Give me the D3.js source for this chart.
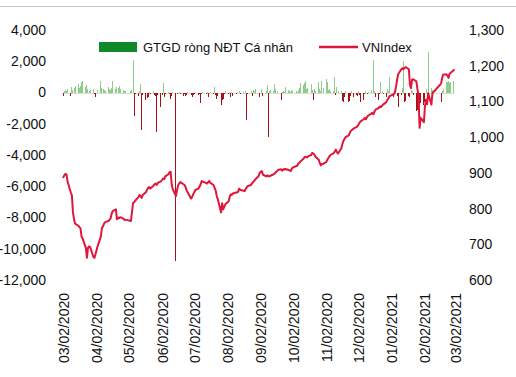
<!DOCTYPE html>
<html><head><meta charset="utf-8">
<script src="https://cdn.jsdelivr.net/npm/d3@7"></script>
<style>
html,body{margin:0;padding:0;background:#fff;}
svg{display:block;font-family:"Liberation Sans",Arial,Helvetica,sans-serif;}
</style></head><body>
<svg id="chart" width="516" height="377"></svg>
<script>
// ---- categories (trading days) ----
const startDate = "2020-03-02";
const endDate = "2021-03-01";
const holidays = ["2020-04-02","2020-04-30","2020-05-01","2020-09-02","2021-01-01",
  "2021-02-10","2021-02-11","2021-02-12","2021-02-15","2021-02-16"];

// ---- tick labels ----
const xTickDates = ["2020-03-02","2020-04-02","2020-05-02","2020-06-02","2020-07-02","2020-08-02",
  "2020-09-02","2020-10-02","2020-11-02","2020-12-02","2021-01-02","2021-02-02","2021-03-02"];
const xTickLabels = ["03/02/2020","04/02/2020","05/02/2020","06/02/2020","07/02/2020","08/02/2020",
  "09/02/2020","10/02/2020","11/02/2020","12/02/2020","01/02/2021","02/02/2021","03/02/2021"];
const leftTicks = [4000, 2000, 0, -2000, -4000, -6000, -8000, -10000, -12000];
const rightTicks = [1300, 1200, 1100, 1000, 900, 800, 700, 600];

// ---- series names ----
const barSeriesName = "GTGD ròng NĐT Cá nhân";
const lineSeriesName = "VNIndex";

// ---- VNIndex (daily close) ----
const vnindex = [
  // Mar 2020
  888, 893, 897, 895, 875, 845, 837, 790, 770, 758, 752, 748, 745, 722, 716, 690, 662, 690, 694, 692, 665, 662,
  // Apr
  672, 695, 722, 746, 750, 758, 762, 765, 768, 772, 785, 793, 798, 770, 775, 773, 776, 772, 768, 769,
  // May
  765, 790, 815, 818, 822, 832, 838, 835, 830, 838, 846, 852, 858, 860, 856, 864, 868, 870, 866, 872,
  // Jun
  876, 880, 884, 882, 890, 896, 902, 903, 868, 854, 835, 852, 865, 870, 874, 868, 866, 860, 850, 845, 828, 832,
  // Jul
  840, 845, 852, 856, 862, 868, 877, 875, 872, 870, 874, 877, 872, 866, 858, 850, 835, 826, 789, 815, 798, 805, 812,
  // Aug
  820, 832, 840, 838, 842, 845, 845, 848, 856, 852, 850, 849, 855, 860, 863, 866, 872, 874, 878, 882, 891,
  // Sep
  900, 905, 895, 890, 893, 891, 890, 892, 896, 898, 902, 904, 908, 910, 906, 910, 909, 911, 908, 907, 905,
  // Oct
  912, 915, 919, 920, 926, 928, 932, 940, 945, 944, 943, 946, 950, 956, 954, 951, 945, 937, 928, 921, 925, 925,
  // Nov
  930, 936, 942, 946, 950, 955, 960, 965, 958, 954, 968, 980, 989, 995, 1000, 1005, 1012, 1018, 1020, 1023, 1028,
  // Dec
  1030, 1035, 1040, 1044, 1050, 1054, 1050, 1056, 1060, 1066, 1068, 1064, 1072, 1077, 1082, 1086, 1084, 1088, 1091, 1098, 1104, 1109, 1115,
  // Jan 2021
  1120, 1125, 1140, 1160, 1176, 1190, 1193, 1190, 1194, 1196, 1190, 1147, 1137, 1161, 1162, 1156, 1135, 1118, 1026, 1054,
  // Feb 2021 + Mar 1
  1042, 1086, 1105, 1092, 1123, 1091, 1123, 1150, 1165, 1175, 1176, 1172, 1166, 1178, 1180, 1188
];

// ---- Net trading value of individual investors (bn VND) ----
const netIndividual = [
  // Mar 2020
  -220, 80, 190, 120, 250, -250, 340, 180, 260, 440, 550, 300, 420, 660, 720, 380, 450, 200, 120, 150, 250, -120,
  // Apr
  -300, 180, 765, 300, 200, 150, 120, 340, 250, 180, 300, 720, 200, 340, 280, 440, 250, 150, 100, 120,
  // May
  80, 150, 2080, -1500, -120, -200, 100, 550, -2380, -150, -450, -380, -300, 60, -100, 80, -150, -200, -2530, -180,
  // Jun
  -950, -150, 590, -300, -80, 60, -120, -400, -200, 40, -10800, -100, -60, 50, -80, -250, -100, -220, -180, 40, -150, -260,
  // Jul
  -180, -120, 50, -150, -80, -680, -100, 60, -90, 40, -300, -60, 50, -100, 340, -150, -400, -200, -830, -450, -400, -120, 80,
  // Aug
  -100, 60, -300, 40, -200, -80, 50, -60, 80, -120, 60, -50, 90, -1740, -80, 70, -250, 150, 100, 230, -60,
  // Sep
  -300, 230, -250, 120, 500, -2850, 80, 150, 100, 550, 200, -60, 80, -480, 60, 100, 50, 340, 150, 120, 60,
  // Oct
  150, 80, 120, 60, 150, 300, 600, 450, 620, 765, 200, 300, 550, 150, -500, 250, 100, 660, 200, 100, 765, 300,
  // Nov
  870, 660, 150, 200, 100, 120, 980, -150, 340, 100, 80, -550, -620, -300, 120, -600, -550, -250, 100, -300, -150,
  // Dec
  -200, 120, -150, -620, -500, -100, 80, -80, 60, 150, -60, 2100, 100, -300, -510, -120, 660, 80, -100, -300, 200, 120, 1000,
  // Jan 2021
  -300, 150, 100, -200, -930, -150, 300, 2000, -600, -550, -200, -300, 150, 100, -150, -1200, -1100, -800, -1250, -700,
  // Feb 2021 + Mar 1
  -800, -600, 200, -400, 2600, 300, 150, -620, 120, 200, 700, 650, 750, 600, 700, 750
];

// ---- build trading-day categories ----
const parse = d3.utcParse("%Y-%m-%d");
const fmt = d3.utcFormat("%Y-%m-%d");
const days = [];
for (let d = parse(startDate); d <= parse(endDate); d = d3.utcDay.offset(d, 1)) {
  const wd = d.getUTCDay();
  if (wd === 0 || wd === 6) continue;
  if (holidays.includes(fmt(d))) continue;
  days.push(d);
}
const n = Math.min(days.length, vnindex.length, netIndividual.length);
const rows = d3.range(n).map(i => ({date: days[i], vn: vnindex[i], net: netIndividual[i]}));

const svg = d3.select("#chart");
const W = 516, H = 377;

const x = d3.scaleUtc().domain([parse(xTickDates[0]), parse(xTickDates[xTickDates.length - 1])]).range([63.3, 455]);
const yL = d3.scaleLinear().domain([-12000, 4000]).range([280, 30]);
const yR = d3.scaleLinear().domain([600, 1300]).range([280, 30]);

const loc = d3.formatLocale({decimal: ".", thousands: ",", grouping: [3], currency: ["", ""], minus: "-"});
const f = loc.format(",");

// top border line
svg.append("line").attr("x1", 0).attr("x2", W).attr("y1", 6.5).attr("y2", 6.5)
  .attr("stroke", "#c9c9c9").attr("stroke-width", 1);

// zero line
svg.append("line").attr("x1", x(days[0]) - 1).attr("x2", x(days[n - 1]) + 1)
  .attr("y1", Math.round(yL(0)) + 0.5).attr("y2", Math.round(yL(0)) + 0.5)
  .attr("stroke", "#d3e3d0").attr("stroke-width", 1);

// bars
svg.append("g").selectAll("rect").data(rows).join("rect")
  .attr("x", d => x(d.date) - 0.5)
  .attr("width", 1)
  .attr("y", d => yL(Math.max(0, d.net)))
  .attr("height", d => Math.abs(yL(d.net) - yL(0)))
  .attr("fill", d => d.net >= 0 ? "#8fcc8b" : "#a8101a")
  .attr("shape-rendering", "crispEdges");

// line
const line = d3.line().x(d => x(d.date)).y(d => yR(d.vn));
svg.append("path").datum(rows).attr("d", line)
  .attr("fill", "none").attr("stroke", "#e0173a").attr("stroke-width", 2)
  .attr("stroke-linejoin", "round").attr("stroke-linecap", "round");

// left axis
const gl = svg.append("g").attr("transform", "translate(46,0)")
  .call(d3.axisLeft(yL).tickValues(leftTicks).tickSize(0).tickPadding(0).tickFormat(f));
gl.select(".domain").remove();
gl.selectAll("text").attr("font-size", 14).attr("fill", "#111").attr("font-family", "Liberation Sans, Arial, sans-serif");

// right axis
const gr = svg.append("g").attr("transform", "translate(469,0)")
  .call(d3.axisRight(yR).tickValues(rightTicks).tickSize(0).tickPadding(0).tickFormat(f));
gr.select(".domain").remove();
gr.selectAll("text").attr("font-size", 14).attr("fill", "#111").attr("font-family", "Liberation Sans, Arial, sans-serif");

// bottom axis
const tickDates = xTickDates.map(parse);
const gb = svg.append("g").attr("transform", "translate(0,293)")
  .call(d3.axisBottom(x).tickValues(tickDates).tickSize(0).tickPadding(0)
    .tickFormat((d, i) => xTickLabels[i]));
gb.select(".domain").remove();
gb.selectAll("text")
  .attr("font-size", 14).attr("fill", "#111").attr("font-family", "Liberation Sans, Arial, sans-serif")
  .attr("transform", "rotate(-90)")
  .attr("x", 0).attr("y", 0).attr("dy", "0.36em")
  .attr("text-anchor", "end");

// legend
const lg = svg.append("g");
lg.append("rect").attr("x", 99).attr("y", 42).attr("width", 38).attr("height", 10).attr("fill", "#0f8a2b");
lg.append("text").attr("x", 143).attr("y", 52).attr("font-size", 13).attr("fill", "#111").text(barSeriesName);
lg.append("line").attr("x1", 319).attr("x2", 358).attr("y1", 47).attr("y2", 47)
  .attr("stroke", "#e0173a").attr("stroke-width", 2.5);
lg.append("text").attr("x", 362).attr("y", 52).attr("font-size", 13).attr("fill", "#111").text(lineSeriesName);
</script>
</body></html>
